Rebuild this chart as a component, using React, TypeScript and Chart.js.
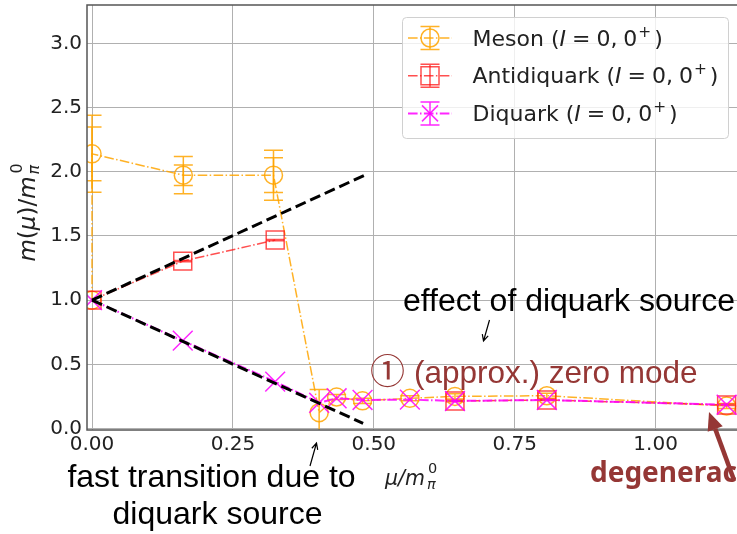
import { useEffect, useRef } from "react";
import { Chart, registerables } from "chart.js";
Chart.register(...registerables);

// ---- data ----
const mesonX = [0, 0, 0.162, 0.322, 0.403, 0.434, 0.48, 0.564, 0.644, 0.807, 1.126];
const mesonY = [1.0, 2.14, 1.974, 1.974, 0.123, 0.245, 0.215, 0.235, 0.25, 0.255, 0.175];
const mesonErrOuter = [0, 0.30, 0.145, 0.195, 0.18, 0.02, 0.02, 0.02, 0.02, 0.02, 0.02];
const mesonErrInner = [0, 0.21, 0.08, 0.135, 0, 0, 0, 0, 0, 0, 0];

const antiX = [0, 0.161, 0.325, 0.644, 0.807, 1.126];
const antiY = [1.0, 1.304, 1.468, 0.214, 0.222, 0.183];
const antiErr = [0, 0.005, 0.005, 0.005, 0.005, 0.005];
const antiGapAfter = 2; // no line drawn between 0.325 and 0.644

const diqX = [0, 0.161, 0.325, 0.403, 0.434, 0.48, 0.564, 0.644, 0.807, 1.126];
const diqY = [1.0, 0.684, 0.365, 0.2, 0.235, 0.222, 0.225, 0.214, 0.222, 0.185];

const guideUpX = [0, 0.484];
const guideUpY = [1.0, 1.974];
const guideDownX = [0, 0.481];
const guideDownY = [1.0, 0.04];

const xTicks = [0, 0.25, 0.5, 0.75, 1.0];
const yTicks = [0, 0.5, 1.0, 1.5, 2.0, 2.5, 3.0];
const legendNames = ["Meson", "Antidiquark", "Diquark"];

const X_MIN = -0.0089;
const X_MAX = 1.1444;
const Y_MIN = -0.012;
const Y_MAX = 3.3;

const ORANGE = "rgba(255,165,0,0.85)";
const RED = "rgba(255,20,20,0.75)";
const MAGENTA = "rgba(255,0,255,0.85)";
const BROWN = "#953735";
const DASHDOT = [9.6, 2.4, 1.5, 2.4];
const TXT = "#222222";
const CLIP = { left: 0, top: 0, right: 20, bottom: 0 };

type Seg = { t: string; f: string; dy?: number; dx?: number };
function drawRich(ctx: CanvasRenderingContext2D, segs: Seg[], x: number, y: number) {
  let cx = x;
  for (const s of segs) {
    ctx.font = s.f;
    cx += s.dx || 0;
    ctx.fillText(s.t, cx, y + (s.dy || 0));
    cx += ctx.measureText(s.t).width;
  }
  return cx;
}
function richWidth(ctx: CanvasRenderingContext2D, segs: Seg[]) {
  let w = 0;
  for (const s of segs) {
    ctx.font = s.f;
    w += (s.dx || 0) + ctx.measureText(s.t).width;
  }
  return w;
}

function arrowOpen(ctx: CanvasRenderingContext2D, x0: number, y0: number, x1: number, y1: number) {
  ctx.save();
  ctx.strokeStyle = "#000";
  ctx.lineWidth = 1.2;
  ctx.beginPath();
  ctx.moveTo(x0, y0);
  ctx.lineTo(x1, y1);
  const a = Math.atan2(y1 - y0, x1 - x0);
  const L = 7;
  ctx.moveTo(x1 - L * Math.cos(a - 0.45), y1 - L * Math.sin(a - 0.45));
  ctx.lineTo(x1, y1);
  ctx.lineTo(x1 - L * Math.cos(a + 0.45), y1 - L * Math.sin(a + 0.45));
  ctx.stroke();
  ctx.restore();
}

function arrowFilled(ctx: CanvasRenderingContext2D, x0: number, y0: number, x1: number, y1: number) {
  ctx.save();
  const a = Math.atan2(y1 - y0, x1 - x0);
  const HL = 18, HW = 8;
  const bx = x1 - HL * Math.cos(a), by = y1 - HL * Math.sin(a);
  ctx.strokeStyle = BROWN;
  ctx.fillStyle = BROWN;
  ctx.lineWidth = 4.5;
  ctx.beginPath();
  ctx.moveTo(x0, y0);
  ctx.lineTo(bx, by);
  ctx.stroke();
  ctx.beginPath();
  ctx.moveTo(x1, y1);
  ctx.lineTo(bx + HW * Math.sin(a), by - HW * Math.cos(a));
  ctx.lineTo(bx - HW * Math.sin(a), by + HW * Math.cos(a));
  ctx.closePath();
  ctx.fill();
  ctx.restore();
}

function errBar(ctx: CanvasRenderingContext2D, px: number, yTop: number, yBot: number, cap: number) {
  ctx.beginPath();
  ctx.moveTo(px, yTop);
  ctx.lineTo(px, yBot);
  ctx.moveTo(px - cap, yTop);
  ctx.lineTo(px + cap, yTop);
  ctx.moveTo(px - cap, yBot);
  ctx.lineTo(px + cap, yBot);
  ctx.stroke();
}

const errorBarPlugin = {
  id: "errorBars",
  beforeDatasetsDraw(chart: any) {
    const { ctx, chartArea, scales } = chart;
    const xs = scales.x, ys = scales.y;
    ctx.save();
    ctx.beginPath();
    ctx.rect(chartArea.left, chartArea.top, chart.width - chartArea.left, chartArea.bottom - chartArea.top);
    ctx.clip();
    ctx.lineWidth = 1.5;
    ctx.strokeStyle = ORANGE;
    mesonX.forEach((x, i) => {
      const px = xs.getPixelForValue(x);
      [mesonErrOuter[i], mesonErrInner[i]].forEach((e) => {
        if (e > 0) errBar(ctx, px, ys.getPixelForValue(mesonY[i] + e), ys.getPixelForValue(mesonY[i] - e), 9.5);
      });
    });
    ctx.strokeStyle = RED;
    antiX.forEach((x, i) => {
      const e = antiErr[i];
      if (e > 0) errBar(ctx, xs.getPixelForValue(x), ys.getPixelForValue(antiY[i] + e), ys.getPixelForValue(antiY[i] - e), 9);
    });
    ctx.restore();
  },
};

const framePlugin = {
  id: "frame",
  afterDatasetsDraw(chart: any) {
    const { ctx, chartArea } = chart;
    ctx.save();
    ctx.strokeStyle = "#555555";
    ctx.lineWidth = 1.5;
    ctx.beginPath();
    ctx.moveTo(chart.width + 5, chartArea.top);
    ctx.lineTo(chartArea.left, chartArea.top);
    ctx.lineTo(chartArea.left, chartArea.bottom);
    ctx.lineTo(chart.width + 5, chartArea.bottom);
    ctx.stroke();
    ctx.restore();
  },
};

function drawLegendMarker(ctx: CanvasRenderingContext2D, kind: number, cx: number, cy: number) {
  const color = kind === 0 ? ORANGE : kind === 1 ? RED : MAGENTA;
  ctx.save();
  ctx.strokeStyle = color;
  ctx.lineWidth = kind === 2 ? 2 : 1.5;
  ctx.setLineDash(DASHDOT);
  ctx.beginPath();
  ctx.moveTo(cx - 22, cy);
  ctx.lineTo(cx + 22, cy);
  ctx.stroke();
  ctx.setLineDash([]);
  ctx.lineWidth = 1.5;
  errBar(ctx, cx, cy - 11.5, cy + 11.5, 9.5);
  ctx.beginPath();
  if (kind === 0) {
    ctx.arc(cx, cy, 9, 0, Math.PI * 2);
  } else if (kind === 1) {
    ctx.rect(cx - 9, cy - 9, 18, 18);
  } else {
    ctx.moveTo(cx - 8, cy - 8);
    ctx.lineTo(cx + 8, cy + 8);
    ctx.moveTo(cx + 8, cy - 8);
    ctx.lineTo(cx - 8, cy + 8);
  }
  ctx.stroke();
  ctx.restore();
}

const overlayPlugin = {
  id: "overlay",
  afterDraw(chart: any) {
    const ctx: CanvasRenderingContext2D = chart.ctx;
    ctx.save();
    ctx.textBaseline = "alphabetic";
    ctx.textAlign = "left";

    // legend
    const bx = 402, by = 17, bw = 326, bh = 121;
    ctx.fillStyle = "rgba(255,255,255,0.8)";
    ctx.strokeStyle = "#d0d0d0";
    ctx.lineWidth = 1;
    ctx.beginPath();
    (ctx as any).roundRect(bx + 0.5, by + 0.5, bw, bh, 4);
    ctx.fill();
    ctx.stroke();
    const R = '22px "DejaVu Sans"';
    const I = 'italic 22px "DejaVu Sans"';
    const S = '15.4px "DejaVu Sans"';
    legendNames.forEach((name, k) => {
      const base = 45.7 + k * 37.7;
      drawLegendMarker(ctx, k, 430, base - 7.7);
      ctx.fillStyle = TXT;
      drawRich(ctx, [
        { t: name + " (", f: R },
        { t: "I", f: I },
        { t: "=", f: R, dx: 6 },
        { t: "0,", f: R, dx: 6 },
        { t: "0", f: R, dx: 6 },
        { t: "+", f: S, dy: -9, dx: 1 },
        { t: ")", f: R, dx: 3 },
      ], 472.5, base);
    });

    // axis labels
    ctx.fillStyle = TXT;
    const XI = 'italic 20.5px "DejaVu Sans"';
    const XSI = 'italic 14.5px "DejaVu Sans"';
    const XSR = '14.5px "DejaVu Sans"';
    const xEnd = drawRich(ctx, [{ t: "μ/m", f: XI }], 385, 485);
    drawRich(ctx, [{ t: "π", f: XSI }], xEnd + 2, 489);
    drawRich(ctx, [{ t: "0", f: XSR }], xEnd + 3, 472.5);

    const YI = 'italic 23px "DejaVu Sans"';
    const YR = '23px "DejaVu Sans"';
    const YSI = 'italic 16px "DejaVu Sans"';
    const YSR = '16px "DejaVu Sans"';
    const ySegs: Seg[] = [
      { t: "m", f: YI },
      { t: "(", f: YR },
      { t: "μ", f: YI },
      { t: ")/", f: YR },
      { t: "m", f: YI },
    ];
    const yw = richWidth(ctx, ySegs) + 12;
    ctx.save();
    ctx.translate(35, 213);
    ctx.rotate(-Math.PI / 2);
    const ye = drawRich(ctx, ySegs, -yw / 2, 0);
    drawRich(ctx, [{ t: "π", f: YSI }], ye + 2, 4);
    drawRich(ctx, [{ t: "0", f: YSR }], ye + 3, -13);
    ctx.restore();

    // annotations
    ctx.fillStyle = "#000";
    ctx.font = '32px "Liberation Sans", Arial, sans-serif';
    ctx.fillText("effect of diquark source", 403, 311);
    ctx.textAlign = "center";
    ctx.fillText("fast transition due to", 211.5, 487);
    ctx.fillText("diquark source", 217.5, 524);
    ctx.textAlign = "left";
    arrowOpen(ctx, 489.5, 320, 483.5, 341);
    arrowOpen(ctx, 310, 466, 316.5, 443);

    ctx.fillStyle = BROWN;
    ctx.font = '35px "Noto Sans CJK JP", "DejaVu Sans", sans-serif';
    ctx.fillText("①", 370, 384);
    ctx.font = '31.5px "Liberation Sans", Arial, sans-serif';
    ctx.fillText("(approx.) zero mode", 414, 383);
    ctx.font = 'bold 28px "Noto Sans", "Liberation Sans", sans-serif';
    ctx.fillText("degeneracy", 590, 482);
    arrowFilled(ctx, 734, 480, 709, 412);
    ctx.restore();
  },
};

const pts = (xs: number[], ys: number[]) => xs.map((x, i) => ({ x, y: ys[i] }));

function zeroPad(s: any) {
  s.paddingLeft = 0;
  s.paddingRight = 0;
  s.paddingTop = 0;
  s.paddingBottom = 0;
  s.getPadding = () => ({ left: 0, right: 0, top: 0, bottom: 0 });
}

export default function App() {
  const ref = useRef<HTMLCanvasElement | null>(null);
  useEffect(() => {
    if (!ref.current) return;
    const tickFont = { family: "DejaVu Sans", size: 20 };
    const chart = new Chart(ref.current, {
      type: "line",
      data: {
        datasets: [
          {
            data: pts(guideUpX, guideUpY),
            borderColor: "#000",
            borderWidth: 3,
            borderDash: [11, 5],
            pointRadius: 0,
            fill: false,
            clip: CLIP,
          },
          {
            data: pts(guideDownX, guideDownY),
            borderColor: "#000",
            borderWidth: 3,
            borderDash: [11, 5],
            pointRadius: 0,
            fill: false,
            clip: CLIP,
          },
          {
            data: pts(diqX, diqY),
            borderColor: MAGENTA,
            borderWidth: 2,
            borderDash: DASHDOT,
            pointStyle: "crossRot",
            pointRadius: 14,
            pointBorderWidth: 1.5,
            pointBorderColor: MAGENTA,
            pointBackgroundColor: "transparent",
            fill: false,
            clip: CLIP,
          },
          {
            data: pts(antiX, antiY),
            borderColor: RED,
            borderWidth: 1.5,
            borderDash: DASHDOT,
            segment: {
              borderColor: (c: any) => (c.p0DataIndex === antiGapAfter ? "rgba(0,0,0,0)" : RED),
            },
            pointStyle: "rect",
            pointRadius: 12.7,
            pointBorderWidth: 1.5,
            pointBorderColor: RED,
            pointBackgroundColor: "transparent",
            fill: false,
            clip: CLIP,
          },
          {
            data: pts(mesonX, mesonY),
            borderColor: ORANGE,
            borderWidth: 1.5,
            borderDash: DASHDOT,
            pointStyle: "circle",
            pointRadius: 9,
            pointBorderWidth: 1.5,
            pointBorderColor: ORANGE,
            pointBackgroundColor: "transparent",
            fill: false,
            clip: CLIP,
          },
        ] as any,
      },
      options: {
        animation: false,
        responsive: false,
        maintainAspectRatio: false,
        layout: { autoPadding: false, padding: { top: 5, left: 0, right: 0, bottom: 0 } },
        elements: { line: { tension: 0 } },
        scales: {
          x: {
            type: "linear",
            min: X_MIN,
            max: X_MAX,
            afterFit(s: any) {
              s.height = 104;
              zeroPad(s);
            },
            afterBuildTicks(s: any) {
              s.ticks = xTicks.map((v) => ({ value: v }));
            },
            ticks: {
              callback: (v: any) => Number(v).toFixed(2),
              font: tickFont,
              color: TXT,
              padding: 3,
              maxRotation: 0,
              autoSkip: false,
            },
            grid: { color: "#b0b0b0", lineWidth: 1, drawTicks: false },
            border: { display: false },
          },
          y: {
            type: "linear",
            min: Y_MIN,
            max: Y_MAX,
            afterFit(s: any) {
              s.width = 87;
              zeroPad(s);
            },
            afterBuildTicks(s: any) {
              s.ticks = yTicks.map((v) => ({ value: v }));
            },
            ticks: {
              callback: (v: any) => Number(v).toFixed(1),
              font: tickFont,
              color: TXT,
              padding: 5,
              autoSkip: false,
            },
            grid: { color: "#b0b0b0", lineWidth: 1, drawTicks: false },
            border: { display: false },
          },
        },
        plugins: { legend: { display: false }, tooltip: { enabled: false } },
      } as any,
      plugins: [errorBarPlugin, framePlugin, overlayPlugin],
    });
    return () => chart.destroy();
  }, []);
  return (
    <div style={{ position: "fixed", left: 0, top: 0, width: 737, height: 534, overflow: "hidden", background: "#fff" }}>
      <canvas ref={ref} width={737} height={534} style={{ display: "block" }} />
    </div>
  );
}
